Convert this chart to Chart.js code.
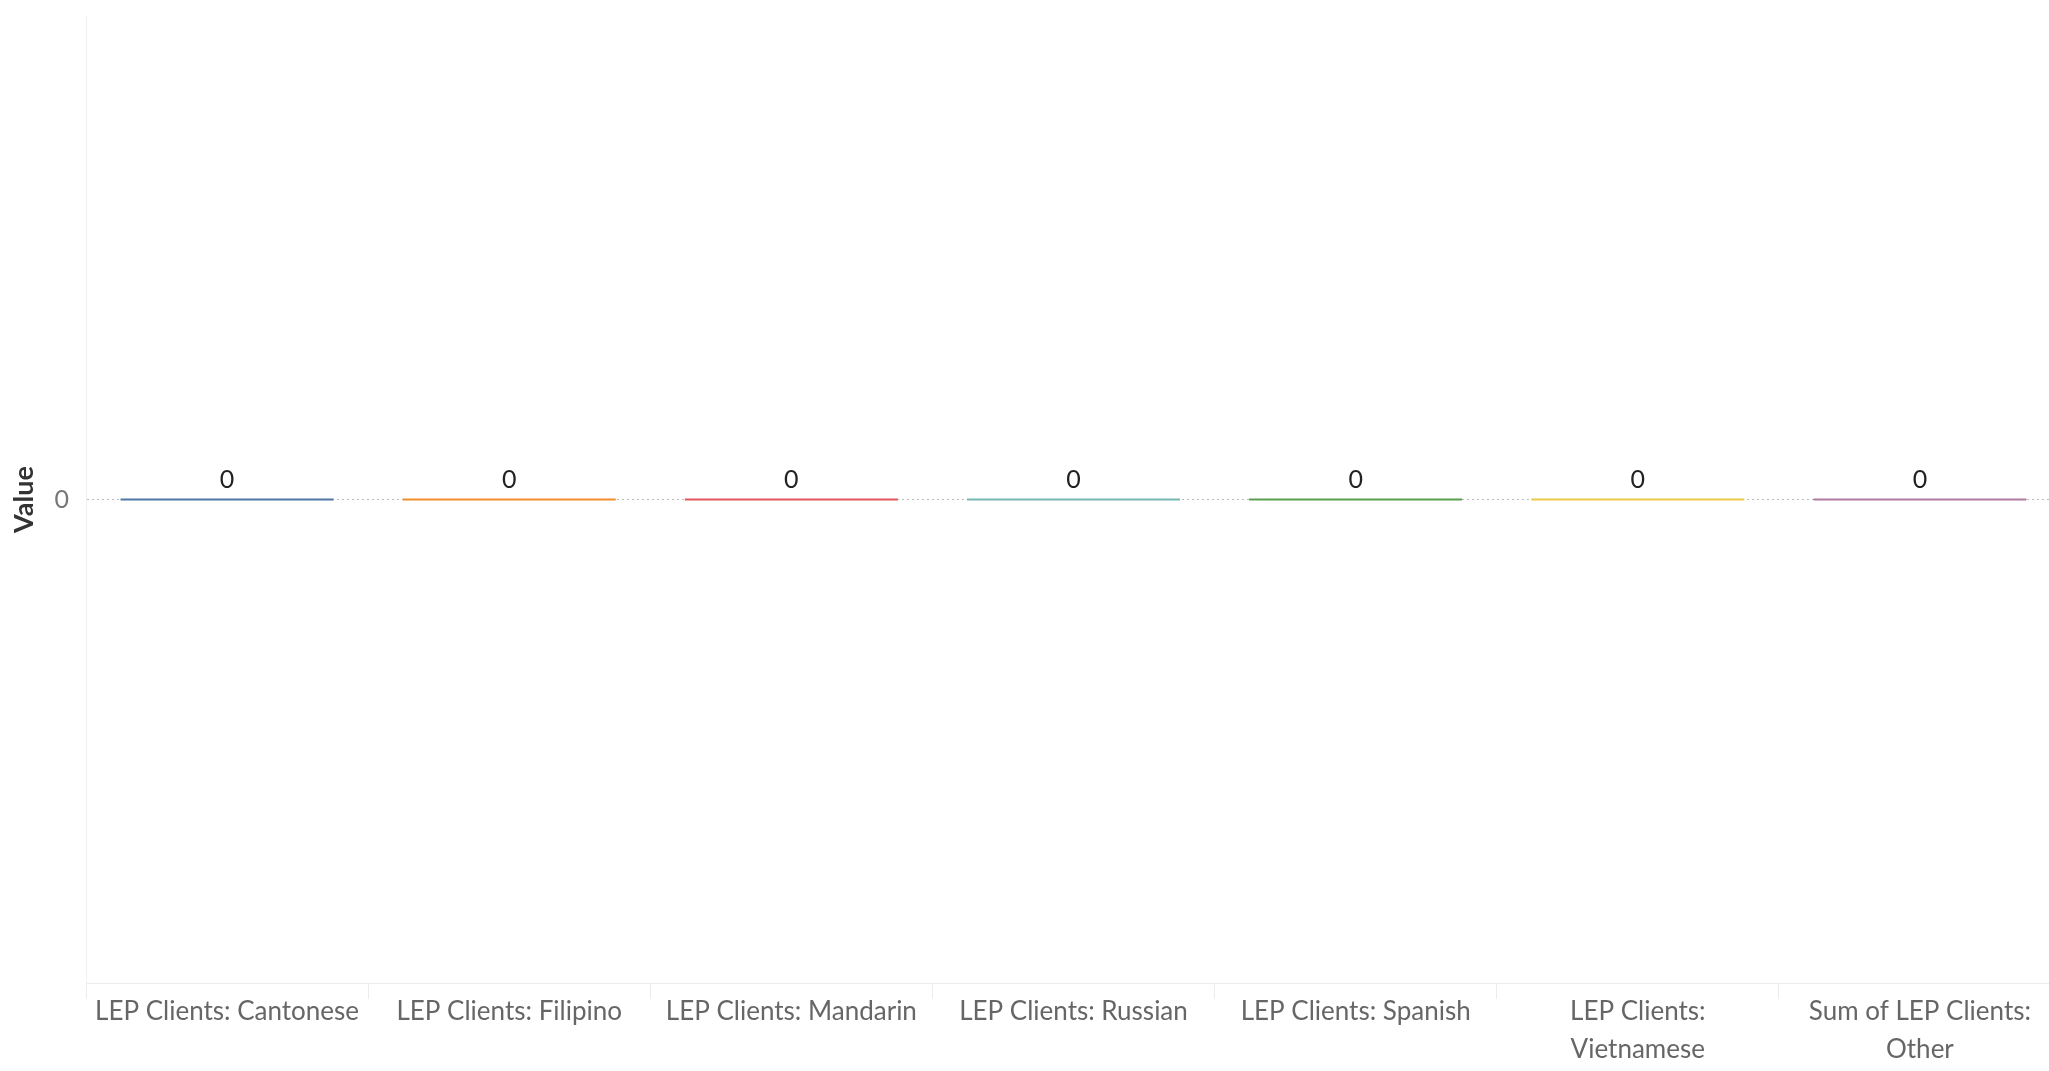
<html><head><meta charset="utf-8">
<script src="https://cdn.jsdelivr.net/npm/chart.js@4.4.0/dist/chart.umd.min.js"></script>
<style>
 body { margin:0; background:#fff; overflow:hidden; }
 #wrap { position:relative; width:2049px; height:1071px; overflow:hidden; }
</style>
</head>
<body>
<div id="wrap"><canvas id="myChart" width="2061" height="1071"></canvas></div>
<script>
var categories = ['LEP Clients: Cantonese', 'LEP Clients: Filipino', 'LEP Clients: Mandarin', 'LEP Clients: Russian',
                  'LEP Clients: Spanish', ['LEP Clients:', 'Vietnamese'], ['Sum of LEP Clients:', 'Other']];
var values = [0, 0, 0, 0, 0, 0, 0];
var colors = ['#4e79a7', '#f28e2b', '#e15759', '#76b7b2', '#59a14f', '#edc948', '#b07aa1'];
var yTicks = [0];

// value labels above each bar
var barLabels = {
  id: 'barLabels',
  afterDatasetsDraw: function(chart) {
    var ctx = chart.ctx;
    var meta = chart.getDatasetMeta(0);
    ctx.save();
    ctx.font = '25px Lato';
    ctx.fillStyle = '#222';
    ctx.textAlign = 'center';
    ctx.textBaseline = 'middle';
    meta.data.forEach(function(bar, i) {
      ctx.fillText(String(values[i]), bar.x, bar.y - 21);
    });
    ctx.restore();
  }
};

var ctx = document.getElementById('myChart');
var myChart = new Chart(ctx, {
  type: 'bar',
  data: {
    labels: categories,
    datasets: [{
      data: values,
      backgroundColor: colors,
      minBarLength: 2,
      categoryPercentage: 1,
      barPercentage: 0.755
    }]
  },
  options: {
    responsive: false,
    animation: false,
    layout: { padding: { top: 16, right: 0, left: 0, bottom: 0 } },
    plugins: { legend: { display: false }, tooltip: { enabled: false } },
    scales: {
      x: {
        grid: { drawOnChartArea: false, color: '#ececec', tickLength: 16 },
        border: { color: '#ececec' },
        ticks: { color: '#666', font: { family: 'Lato', size: 26, lineHeight: 1.46 }, maxRotation: 0, autoSkip: false, padding: -6 },
        afterFit: function(s) { s.height = 88; }
      },
      y: {
        min: -1, max: 1,
        afterBuildTicks: function(s) { s.ticks = yTicks.map(function(v) { return { value: v }; }); },
        grid: { color: '#bbb', borderDash: [2, 3], drawTicks: false },
        border: { color: '#f0f0f0', dash: [2, 3] },
        ticks: { color: '#777', font: { family: 'Lato', size: 25 }, padding: 17 },
        title: { display: true, text: 'Value', color: '#333', font: { family: 'Lato', size: 27, weight: 'bold' }, padding: { top: 8, bottom: 0 } },
        afterFit: function(s) { s.width = 86; s.paddingTop = 0; s.paddingBottom = 0; }
      }
    }
  },
  plugins: [barLabels]
});
</script>
</body></html>
